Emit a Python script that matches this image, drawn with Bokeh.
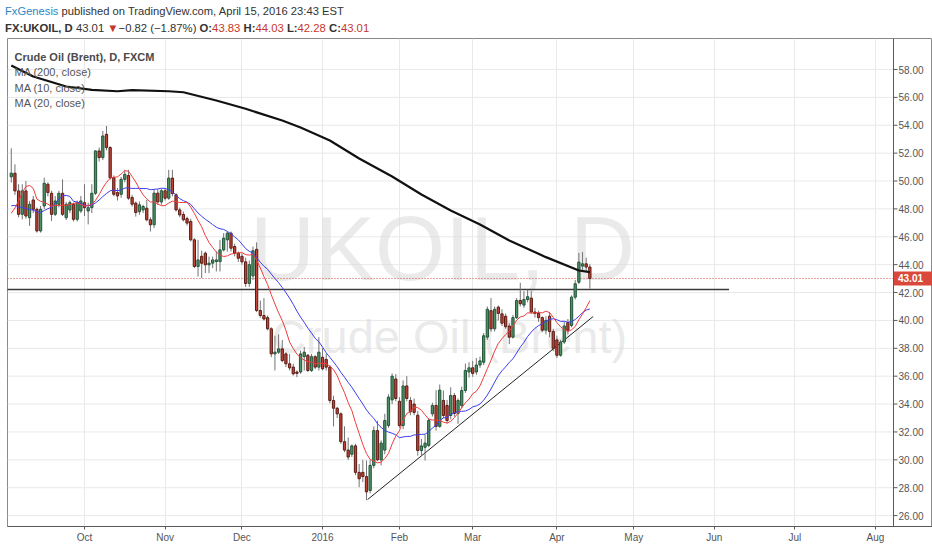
import pandas as pd
from bokeh.plotting import figure
from bokeh.models import Range1d, FixedTicker, Span, Label, Div, ColumnDataSource
from bokeh.layouts import column
from bokeh.core.properties import value
from bokeh.embed import file_html
from bokeh.resources import INLINE

# ---------------- data (daily bars, FXCM UKOIL, 3 Sep 2015 .. 15 Apr 2016) ----------------
opens = [50.30, 50.56, 49.29, 47.61, 49.29, 47.37, 48.64, 47.97, 46.42, 48.21,
         49.77, 49.12, 47.61, 48.33, 49.12, 47.37, 47.92, 48.33, 47.25, 47.85,
         48.45, 47.85, 48.09, 49.12, 52.16, 51.68, 53.35, 52.40, 50.24, 49.17,
         49.05, 50.12, 50.40, 48.82, 48.41, 47.80, 47.93, 48.05, 47.22, 46.86,
         49.13, 48.50, 49.30, 48.77, 50.21, 49.01, 47.93, 47.60, 47.30, 47.10,
         45.78, 43.87, 44.60, 44.82, 43.99, 44.11, 44.22, 44.22, 45.06, 45.78,
         46.26, 45.30, 44.82, 44.60, 44.20, 42.65, 43.20, 45.10, 40.71, 40.35,
         40.20, 39.40, 37.60, 37.72, 37.96, 37.60, 36.89, 36.65, 36.30, 36.30,
         37.40, 37.50, 36.41, 37.40, 36.65, 37.36, 37.20, 36.65, 34.26, 33.70,
         33.30, 31.30, 30.70, 30.40, 31.00, 29.10, 29.10, 28.80, 27.80, 29.60,
         32.10, 30.00, 30.70, 32.46, 34.30, 35.80, 34.20, 32.46, 35.30, 34.26,
         34.00, 33.20, 30.67, 30.90, 31.03, 33.30, 33.90, 32.40, 34.26, 33.90,
         33.18, 34.61, 33.33, 33.90, 34.97, 36.30, 36.60, 36.30, 36.80, 37.00,
         38.80, 40.70, 39.40, 40.95, 40.47, 40.30, 39.60, 38.80, 40.20, 41.43,
         41.10, 41.50, 41.60, 40.60, 40.50, 40.20, 39.30, 40.30, 39.20, 38.60,
         37.50, 38.45, 39.85, 39.64, 41.67, 42.74, 43.90, 44.06, 43.83]
highs = [52.35, 51.20, 49.77, 49.77, 50.00, 48.57, 48.93, 48.10, 48.21, 50.24,
         49.90, 49.30, 48.93, 49.30, 50.12, 48.50, 48.60, 48.45, 48.60, 48.93,
         49.77, 48.45, 49.77, 52.20, 52.40, 53.59, 53.95, 52.50, 50.40, 49.50,
         50.30, 50.80, 50.80, 49.01, 48.53, 48.53, 48.30, 48.65, 47.40, 49.40,
         49.40, 49.45, 49.50, 50.80, 50.80, 49.13, 48.10, 47.81, 47.45, 47.30,
         45.90, 45.78, 45.00, 44.94, 44.58, 44.58, 44.94, 45.78, 46.26, 46.38,
         46.38, 45.50, 44.94, 44.80, 44.50, 44.30, 45.30, 45.60, 41.43, 41.60,
         40.35, 39.51, 38.90, 39.00, 38.60, 37.72, 37.60, 36.89, 36.41, 37.84,
         38.10, 37.60, 37.60, 37.50, 38.80, 38.00, 37.60, 36.80, 34.60, 33.80,
         33.40, 32.40, 31.60, 31.10, 31.15, 29.70, 30.00, 29.95, 30.00, 32.40,
         32.80, 31.40, 33.30, 34.70, 36.20, 36.15, 34.50, 35.70, 36.00, 34.50,
         34.40, 33.50, 31.50, 31.80, 33.00, 34.10, 35.00, 35.40, 34.97, 34.30,
         35.20, 34.80, 34.40, 35.25, 36.90, 37.00, 37.10, 37.30, 37.40, 39.10,
         41.00, 41.60, 41.00, 41.07, 40.80, 40.50, 39.80, 40.40, 41.60, 42.70,
         42.10, 42.20, 42.10, 40.90, 40.70, 40.30, 40.30, 40.60, 39.40, 38.90,
         38.60, 39.90, 40.10, 41.80, 42.90, 44.84, 44.90, 44.50, 44.03]
lows = [49.90, 49.00, 47.40, 47.25, 47.30, 46.78, 47.70, 46.30, 46.30, 48.00,
        48.90, 47.13, 47.49, 48.10, 47.49, 47.20, 47.70, 47.10, 47.10, 47.70,
        47.49, 46.89, 47.70, 49.00, 51.40, 51.50, 52.20, 50.10, 48.90, 48.60,
        48.80, 49.90, 48.65, 48.17, 47.45, 47.57, 47.70, 47.10, 46.38, 46.62,
        48.30, 48.30, 48.60, 48.65, 48.90, 47.81, 47.40, 47.10, 46.80, 45.66,
        43.75, 43.15, 43.03, 43.39, 43.39, 43.75, 43.51, 43.51, 44.94, 44.94,
        44.94, 44.60, 44.20, 43.99, 42.40, 42.40, 42.90, 40.60, 40.20, 39.99,
        39.28, 37.36, 36.41, 37.60, 37.00, 36.65, 36.41, 36.05, 35.93, 36.17,
        36.41, 36.30, 36.30, 36.50, 36.41, 36.41, 36.41, 34.05, 32.40, 33.00,
        31.15, 30.55, 30.00, 30.20, 28.90, 28.04, 28.40, 27.10, 27.60, 29.40,
        29.90, 29.60, 30.40, 32.30, 34.00, 34.20, 32.30, 32.20, 34.20, 33.20,
        33.20, 30.30, 30.30, 29.95, 30.90, 33.10, 32.10, 32.30, 33.00, 32.60,
        32.90, 33.10, 32.58, 33.70, 34.80, 35.90, 35.95, 36.10, 36.60, 36.80,
        38.60, 39.20, 39.20, 40.00, 39.60, 39.40, 38.30, 38.70, 40.10, 41.00,
        40.90, 41.30, 40.50, 40.20, 39.90, 39.15, 39.00, 38.80, 37.80, 37.30,
        37.40, 38.30, 39.00, 39.50, 41.50, 42.60, 43.60, 43.50, 42.28]
closes = [50.56, 49.29, 47.61, 49.29, 47.49, 48.33, 47.97, 46.42, 47.97, 49.84,
          49.17, 47.61, 48.57, 49.12, 47.61, 48.33, 48.45, 47.25, 48.45, 48.57,
          48.09, 48.09, 49.12, 52.16, 51.68, 53.23, 52.40, 50.24, 49.05, 48.93,
          50.12, 50.48, 48.77, 48.34, 47.74, 48.29, 48.17, 47.22, 46.86, 49.13,
          48.50, 49.30, 48.77, 50.21, 49.10, 47.93, 47.57, 47.22, 46.98, 45.78,
          43.87, 44.34, 44.10, 43.99, 44.11, 44.34, 44.34, 45.06, 45.90, 46.26,
          45.18, 44.82, 44.46, 44.20, 42.65, 44.00, 45.00, 40.71, 40.35, 40.10,
          39.40, 37.60, 37.72, 37.96, 37.12, 36.89, 36.60, 36.17, 36.20, 37.60,
          37.72, 36.41, 37.40, 36.65, 37.72, 36.53, 36.65, 34.26, 33.70, 33.30,
          31.30, 30.70, 30.20, 31.00, 29.10, 28.64, 28.80, 27.70, 29.60, 32.10,
          30.00, 31.20, 32.82, 34.50, 36.00, 34.40, 32.46, 35.30, 34.40, 33.45,
          33.40, 30.67, 31.00, 31.20, 32.82, 33.90, 32.40, 35.00, 33.18, 32.82,
          34.61, 33.33, 34.26, 34.97, 36.41, 36.60, 36.20, 36.80, 37.10, 38.90,
          40.80, 39.40, 40.80, 40.50, 39.80, 39.55, 38.80, 40.20, 41.43, 41.20,
          41.50, 41.70, 40.60, 40.50, 40.20, 39.30, 40.00, 39.20, 38.00, 37.50,
          38.45, 39.60, 39.30, 41.67, 42.63, 44.18, 44.06, 43.83, 43.01]
# closes of the 19 sessions before the first visible bar (only used to warm up the MAs)
prior_closes = [48.61, 50.41, 49.18, 49.66, 49.22, 49.19, 48.74, 49.00, 46.90, 46.62,
                45.46, 42.69, 43.21, 43.14, 47.56, 50.05, 54.15, 49.56, 50.50]

# 200-day MA (bar index, value)
ma200_idx = [0, 6, 15, 22, 29, 33, 43, 47, 56, 64, 74, 79, 87, 95, 104, 112, 120, 128, 136, 146, 155, 158]
ma200_val = [58.29, 57.50, 56.78, 56.54, 56.44, 56.52, 56.44, 56.37, 55.78, 55.18, 54.34, 53.84,
             52.91, 51.62, 50.32, 49.03, 47.88, 46.88, 45.73, 44.54, 43.58, 43.46]

month_ticks = [20, 42, 63, 85, 106, 126, 149, 170, 192, 214, 236]
month_labels = ["Oct", "Nov", "Dec", "2016", "Feb", "Mar", "Apr", "May", "Jun", "Jul", "Aug"]
price_ticks = [26, 28, 30, 32, 34, 36, 38, 40, 42, 44, 46, 48, 50, 52, 54, 56, 58]

support_level = 42.22
support_x = [-5, 196]
trend_x = [97.3, 158.9]
trend_y = [27.15, 40.28]
last_price = 43.01

# ---------------- geometry ----------------
FL, FW, FH = 7, 925, 488          # frame left (px), frame width, frame height
SX = 3.662                        # px per bar
X0 = -1.03                        # bar value at frame left
Y1, SY = 60.224, 13.94            # price at frame top, px per price unit
def X(px):                        # page x pixel -> bar coordinate
    return X0 + (px - FL) / SX
X_AX = X(893)                     # price-scale border

# ---------------- derived ----------------
n = len(closes)
idx = list(range(n))
allc = pd.Series(prior_closes + closes)
ma10 = allc.rolling(10).mean().iloc[len(prior_closes):].tolist()
ma20 = allc.rolling(20).mean().iloc[len(prior_closes):].tolist()

up = [i for i in idx if closes[i] >= opens[i]]
dn = [i for i in idx if closes[i] < opens[i]]
src_up = ColumnDataSource(dict(x=up, top=[closes[i] for i in up], bottom=[opens[i] for i in up]))
src_dn = ColumnDataSource(dict(x=dn, top=[opens[i] for i in dn], bottom=[closes[i] for i in dn]))
src_w = ColumnDataSource(dict(x=idx, h=highs, l=lows))

FONT = "Liberation Sans"
GRID = "#e9e9e9"
AXC = "#5a5a5a"

p = figure(frame_width=FW, frame_height=FH,
           x_range=Range1d(X0, X0 + FW / SX), y_range=Range1d(Y1 - FH / SY, Y1),
           output_backend="svg", toolbar_location=None, y_axis_location=None,
           min_border_left=FL, min_border_top=0, min_border_right=0, min_border_bottom=22,
           background_fill_color="white", border_fill_color="white")
p.outline_line_color = "#8a8a8a"

# grids
p.xgrid.ticker = FixedTicker(ticks=month_ticks)
p.xgrid.grid_line_color = GRID
p.ygrid.visible = False
nt = len(price_ticks)
p.segment(x0=[X0] * nt, x1=[X_AX] * nt, y0=price_ticks, y1=price_ticks, line_color=GRID, line_width=1)

# time axis
ax = p.xaxis[0]
ax.axis_line_color = AXC
ax.major_tick_line_color = AXC
ax.minor_tick_line_color = None
ax.major_tick_in = 0
ax.major_tick_out = 3
ax.major_label_text_color = "#555555"
ax.major_label_text_font = FONT
ax.major_label_text_font_size = "10px"
ax.major_label_standoff = 2
ax.ticker = FixedTicker(ticks=month_ticks)
ax.major_label_overrides = {t: l for t, l in zip(month_ticks, month_labels)}

# watermark
p.text(x=[X(442)], y=[45.1], text=["UKOIL, D"], text_font=value(FONT), text_font_size="90px",
       text_color="#d8d8d8", text_alpha=0.55, text_align="center", text_baseline="middle")
p.text(x=[X(449)], y=[38.85], text=["Crude Oil (Brent)"], text_font=value(FONT), text_font_size="47px",
       text_color="#d8d8d8", text_alpha=0.55, text_align="center", text_baseline="middle")

# price scale (drawn at the right of the chart area)
p.add_layout(Span(location=X_AX, dimension="height", line_color=AXC, line_width=1))
p.segment(x0=[X_AX] * nt, x1=[X(897)] * nt, y0=price_ticks, y1=price_ticks, line_color=AXC, line_width=1)
p.text(x=[X(898)] * nt, y=price_ticks, text=["%.2f" % t for t in price_ticks], text_font=value(FONT),
       text_font_size="10px", text_color="#555555", text_align="left", text_baseline="middle")

# reference lines
p.segment(x0=[X0], x1=[X_AX], y0=[last_price], y1=[last_price], line_color="#d9483b",
          line_dash="1 2", line_width=1)
p.line(support_x, [support_level, support_level], line_color="#3a3a3a", line_width=1.6)
p.line(trend_x, trend_y, line_color="#222222", line_width=1)

# candles
p.segment(x0="x", y0="h", x1="x", y1="l", source=src_w, line_color="#737375", line_width=1)
p.vbar(x="x", top="top", bottom="bottom", width=0.62, source=src_up,
       fill_color="#4f9066", line_color="#225437", line_width=1)
p.vbar(x="x", top="top", bottom="bottom", width=0.62, source=src_dn,
       fill_color="#bf4638", line_color="#5b1a13", line_width=1)

# moving averages
p.line(idx, ma20, line_color="#3d3df0", line_width=1)
p.line(idx, ma10, line_color="#f03c3c", line_width=1)
p.line(ma200_idx, ma200_val, line_color="#111111", line_width=2.2)

# last price marker on the price scale
p.quad(left=[X(893.5)], right=[X(940)], bottom=[last_price - 7 / SY], top=[last_price + 7 / SY],
       fill_color="#d9483b", line_color=None)
p.text(x=[X(897.5)], y=[last_price], text=["%.2f" % last_price], text_font=value(FONT),
       text_font_size="10px", text_font_style="bold", text_color="white",
       text_align="left", text_baseline="middle")

# legend texts
p.add_layout(Label(x=X(14), y=58.9, text="Crude Oil (Brent), D, FXCM", text_font=FONT,
                   text_font_size="11px", text_font_style="bold", text_color="#4a4a4a",
                   text_baseline="middle"))
for txt, yy in (("MA (200, close)", 57.8), ("MA (10, close)", 56.7), ("MA (20, close)", 55.62)):
    p.add_layout(Label(x=X(14), y=yy, text=txt, text_font=FONT, text_font_size="11px",
                       text_color="#555555", text_baseline="middle"))

# header
chg = closes[-1] - closes[-2]
pct = chg / closes[-2] * 100
RED = "#c4372c"
hdr = (
    '<div style="padding:3px 0 0 5px;font-family:\'Liberation Sans\',Arial,sans-serif;'
    'line-height:17px;color:#333;white-space:nowrap">'
    '<div style="font-size:11.2px"><span style="color:#2d86c6">FxGenesis</span> published on TradingView.com, April 15, 2016 23:43 EST</div>'
    '<div style="font-size:11.3px"><b>FX:UKOIL, D</b> %.2f <span style="color:%s">&#9660;</span>&#8722;%.2f (&#8722;%.2f%%) '
    '<b>O:</b><span style="color:%s">%.2f</span> <b>H:</b><span style="color:%s">%.2f</span> '
    '<b>L:</b><span style="color:%s">%.2f</span> <b>C:</b><span style="color:%s">%.2f</span></div></div>'
) % (closes[-1], RED, abs(chg), abs(pct), RED, opens[-1], RED, highs[-1], RED, lows[-1], RED, closes[-1])
div = Div(text=hdr, width=932, height=38, margin=0)

layout = column(div, p, spacing=0)
open("out.html", "w").write(file_html(layout, INLINE))
